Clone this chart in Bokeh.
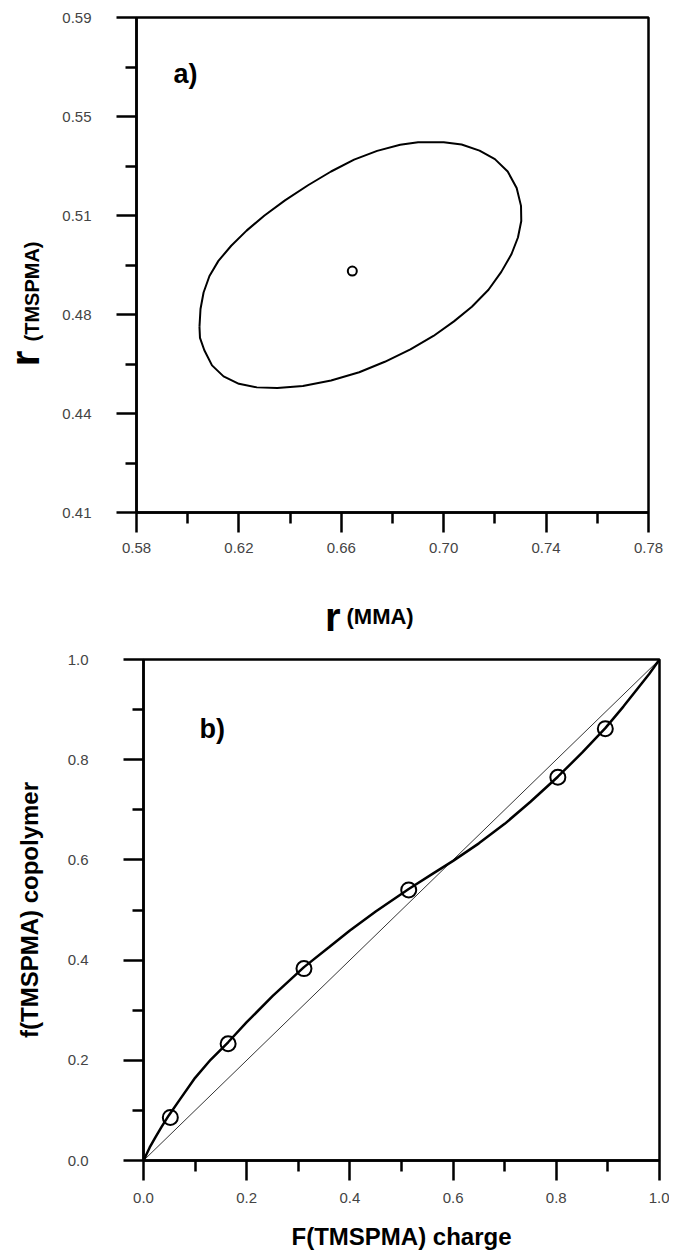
import numpy as np
from bokeh.plotting import figure
from bokeh.models import FixedTicker, Label, Range1d
from bokeh.layouts import column, row
from bokeh.embed import file_html
from bokeh.resources import INLINE

# ---------------- Panel a) : confidence contour of reactivity ratios ----------------
ell_r_mma = [0.6046, 0.6050, 0.6062, 0.6085, 0.6120, 0.6170, 0.6230, 0.6300, 0.6380,
             0.6470, 0.6560, 0.6650, 0.6740, 0.6830, 0.6900, 0.7000, 0.7070, 0.7140,
             0.7200, 0.7250, 0.7285, 0.7302, 0.7303, 0.7290, 0.7265, 0.7225, 0.7175,
             0.7110, 0.7040, 0.6960, 0.6870, 0.6770, 0.6670, 0.6560, 0.6450, 0.6350,
             0.6270, 0.6200, 0.6140, 0.6095, 0.6065, 0.6048, 0.6046]
ell_r_tms = [0.4775, 0.4840, 0.4900, 0.4960, 0.5015, 0.5070, 0.5125, 0.5180, 0.5235,
             0.5290, 0.5340, 0.5383, 0.5415, 0.5437, 0.5446, 0.5446, 0.5438, 0.5416,
             0.5385, 0.5340, 0.5280, 0.5215, 0.5160, 0.5100, 0.5040, 0.4975, 0.4910,
             0.4848, 0.4795, 0.4742, 0.4693, 0.4648, 0.4610, 0.4580, 0.4560, 0.4553,
             0.4555, 0.4568, 0.4595, 0.4635, 0.4690, 0.4735, 0.4775]
best_r_mma = [0.6643]
best_r_tms = [0.4978]

a_xticks = [0.58, 0.62, 0.66, 0.70, 0.74, 0.78]
a_xminor = [0.60, 0.64, 0.68, 0.72, 0.76]
a_xlabels = ["0.58", "0.62", "0.66", "0.70", "0.74", "0.78"]
a_yticks = [0.41, 0.446, 0.482, 0.518, 0.554, 0.59]
a_yminor = [0.428, 0.464, 0.500, 0.536, 0.572]
a_ylabels = ["0.41", "0.44", "0.48", "0.51", "0.55", "0.59"]

# ---------------- Panel b) : copolymer composition ----------------
feed_tms = [0.052, 0.164, 0.311, 0.514, 0.803, 0.895]
copol_tms = [0.086, 0.233, 0.383, 0.540, 0.765, 0.862]
fit_feed = [0.0, 0.012, 0.023, 0.035, 0.049, 0.07, 0.10, 0.13, 0.164, 0.20, 0.25,
            0.311, 0.36, 0.40, 0.45, 0.514, 0.56, 0.60, 0.65, 0.70, 0.75, 0.803,
            0.85, 0.895, 0.93, 0.96, 0.98, 1.0]
fit_copol = [0.0, 0.026, 0.046, 0.067, 0.090, 0.121, 0.165, 0.201, 0.236, 0.276, 0.328,
             0.386, 0.426, 0.459, 0.497, 0.542, 0.572, 0.598, 0.633, 0.672, 0.716, 0.766,
             0.814, 0.863, 0.906, 0.945, 0.971, 1.0]
diag = [0.0, 1.0]

b_ticks = [0.0, 0.2, 0.4, 0.6, 0.8, 1.0]
b_minor = [0.1, 0.3, 0.5, 0.7, 0.9]
b_labels = ["0.0", "0.2", "0.4", "0.6", "0.8", "1.0"]

FONT = "Liberation Sans"
STRIP_W = 54
TOTAL_W = 669
P1_H = 562          # height of the top plot canvas
P2_TOP = 10         # border above the lower frame


def style(p, xt, xm, xl, yt, ym, yl, xstand, ystand):
    p.xaxis.ticker = FixedTicker(ticks=xt, minor_ticks=xm)
    p.yaxis.ticker = FixedTicker(ticks=yt, minor_ticks=ym)
    p.xaxis.major_label_overrides = dict(zip(xt, xl))
    p.yaxis.major_label_overrides = dict(zip(yt, yl))
    p.xaxis.major_label_standoff = xstand
    p.yaxis.major_label_standoff = ystand
    for ax in (p.xaxis[0], p.yaxis[0]):
        ax.axis_line_width = 2.5
        ax.axis_line_color = "black"
        ax.major_tick_line_width = 2.5
        ax.minor_tick_line_width = 2.5
        ax.major_tick_line_color = "black"
        ax.minor_tick_line_color = "black"
        ax.major_tick_out = 20
        ax.major_tick_in = 0
        ax.minor_tick_out = 11
        ax.minor_tick_in = 0
        ax.major_label_text_font = FONT
        ax.major_label_text_font_size = "15px"
        ax.major_label_text_color = "#444444"
        ax.axis_label_text_font = FONT
        ax.axis_label_text_font_style = "bold"
        ax.axis_label_text_font_size = "24px"
        ax.axis_label_text_color = "black"
    p.yaxis.major_label_orientation = "horizontal"
    p.xgrid.visible = False
    p.ygrid.visible = False
    p.outline_line_color = "black"
    p.outline_line_width = 2.5
    p.outline_line_alpha = 1.0
    p.background_fill_color = "white"
    p.border_fill_color = "white"


def strip(w, h):
    """Blank text strip; its data coordinates are pixels from its top-left corner."""
    s = figure(frame_width=w, frame_height=h, output_backend="svg", toolbar_location=None,
               x_range=Range1d(0, w), y_range=Range1d(h, 0),
               x_axis_type=None, y_axis_type=None, min_border=0)
    s.min_border_left = s.min_border_right = s.min_border_top = s.min_border_bottom = 0
    s.outline_line_color = None
    s.xgrid.visible = False
    s.ygrid.visible = False
    s.background_fill_color = "white"
    s.border_fill_color = "white"
    return s


def lab(fig, x, y, text, size, align="left", angle=0.0, baseline="alphabetic"):
    fig.add_layout(Label(x=x, y=y, text=text, text_font=FONT, text_font_style="bold",
                         text_font_size=size, text_align=align, text_baseline=baseline,
                         angle=angle, text_color="black"))


# ---------- figure a ----------
p1 = figure(frame_width=512, frame_height=495, output_backend="svg", toolbar_location=None,
            x_range=Range1d(0.58, 0.78), y_range=Range1d(0.41, 0.59),
            min_border_left=136 - STRIP_W, min_border_right=TOTAL_W - 136 - 512,
            min_border_top=17, min_border_bottom=P1_H - 17 - 495)
style(p1, a_xticks, a_xminor, a_xlabels, a_yticks, a_yminor, a_ylabels, 10, 25)
p1.line(ell_r_mma, ell_r_tms, line_color="black", line_width=2)
p1.scatter(best_r_mma, best_r_tms, marker="circle", size=9, fill_color=None,
           line_color="black", line_width=2)
lab(p1, 0.58 + (173 - 136) / 2560.0, 0.59 - (58 - 17) / 2750.0, "a)", "27px", baseline="top")

# rotated y title r(TMSPMA), anchored at text centres
ya = strip(STRIP_W, P1_H)
lab(ya, 24, 341, "r", "40px", align="center", baseline="middle", angle=np.pi / 2)
lab(ya, 31, 274, "(TMSPMA)", "20px", align="center", baseline="middle", angle=np.pi / 2)

XA_H = 659 - P1_H - P2_TOP
xa = strip(TOTAL_W, XA_H)
lab(xa, 340, 616 - P1_H, "r", "40px", align="right")
lab(xa, 346, 616 - P1_H, "(MMA)", "22px")

# ---------- figure b ----------
p2 = figure(frame_width=516, frame_height=501, output_backend="svg", toolbar_location=None,
            x_range=Range1d(0.0, 1.0), y_range=Range1d(0.0, 1.0),
            min_border_left=143, min_border_right=TOTAL_W - 143 - 516, min_border_top=P2_TOP,
            min_border_bottom=94)
style(p2, b_ticks, b_minor, b_labels, b_ticks, b_minor, b_labels, 12, 35)
p2.xaxis.axis_label = "F(TMSPMA) charge"
p2.yaxis.axis_label = "f(TMSPMA) copolymer"
p2.xaxis.axis_label_standoff = 17
p2.yaxis.axis_label_standoff = 22
p2.line(diag, diag, line_color="black", line_width=0.8)
p2.line(fit_feed, fit_copol, line_color="black", line_width=2.5)
p2.scatter(feed_tms, copol_tms, marker="circle", size=15, fill_color=None,
           line_color="black", line_width=2)
lab(p2, (199 - 143) / 516.0, (1160 - 713) / 501.0, "b)", "27px", baseline="top")

layout = column(row(ya, p1), row(xa), row(p2))
open("out.html", "w").write(file_html(layout, INLINE))
